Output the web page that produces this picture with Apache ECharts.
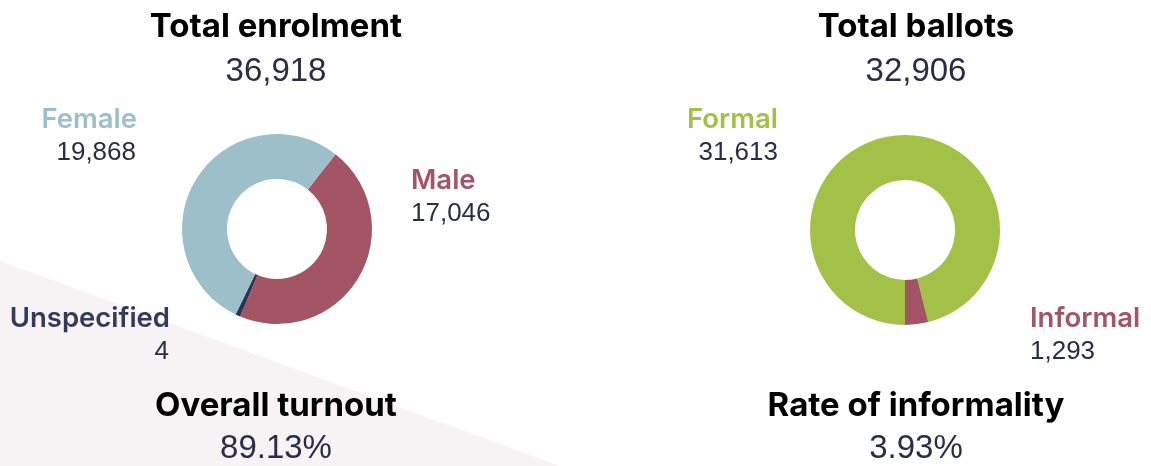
<!DOCTYPE html>
<html>
<head>
<meta charset="utf-8">
<title>Enrolment and ballots</title>
<script src="https://cdn.jsdelivr.net/npm/echarts@6/dist/echarts.min.js"></script>
<style>
    html, body { margin: 0; padding: 0; background: #fff; }
    #chart { width: 1151px; height: 466px; }
</style>
</head>
<body>
<div id="chart"></div>
<script>
// enrolment by gender
const genderNames = ['Female', 'Male', 'Unspecified'];
const genderValues = [19868, 17046, 4];
const genderColors = ['#9dbfc9', '#a35565', '#2b3452'];
const genderLabelColors = ['#9dbfc9', '#a35565', '#343a5a'];

// ballots
const ballotNames = ['Formal', 'Informal'];
const ballotValues = [31613, 1293];
const ballotColors = ['#a3c147', '#a35565'];

// headline figures
const headings = ['Total enrolment', 'Total ballots', 'Overall turnout', 'Rate of informality'];
const headlineValues = ['36,918', '32,906', '89.13%', '3.93%'];

const numColor = '#2b2d48';
const headFont = 'bold 33px Inter, "Noto Sans", sans-serif';
const bigNumFont = '33px "Liberation Sans", Arial, sans-serif';
const labelFont = '600 27.5px Inter, "Noto Sans", sans-serif';
const numFont = '26px "Liberation Sans", Arial, sans-serif';

const fmt = v => v.toLocaleString('en-US');

function txt(x, y, text, font, fill, align) {
    return {
        type: 'text',
        x: x,
        y: y,
        z: 10,
        style: {
            text: text,
            font: font,
            fill: fill,
            textAlign: align || 'center',
            textVerticalAlign: 'middle',
        },
    };
}

const myChart = echarts.init(document.getElementById('chart'));

// headings and big numbers, two columns
const colX = [276, 916];
const rowY = [[27, 72], [406, 449]];
const headText = [];
headings.forEach((h, i) => {
    const cx = colX[i % 2];
    const ry = rowY[Math.floor(i / 2)];
    headText.push(txt(cx, ry[0], h, headFont, '#000'));
    headText.push(txt(cx, ry[1], headlineValues[i], bigNumFont, numColor));
});

// slice labels (name + value), placed round the rings
const labelPos = {
    Female: [137, 120, 'right'],
    Male: [411, 181, 'left'],
    Unspecified: [170, 319, 'right'],
    Formal: [778, 120, 'right'],
    Informal: [1030, 319, 'left'],
};
const sliceText = [];
genderNames.forEach((n, i) => {
    const p = labelPos[n];
    sliceText.push(txt(p[0], p[1], n, labelFont, genderLabelColors[i], p[2]));
    sliceText.push(txt(p[0] - (p[2] === 'right' ? 1 : 0), p[1] + 33, fmt(genderValues[i]), numFont, numColor, p[2]));
});
ballotNames.forEach((n, i) => {
    const p = labelPos[n];
    sliceText.push(txt(p[0], p[1], n, labelFont, ballotColors[i], p[2]));
    sliceText.push(txt(p[0], p[1] + 33, fmt(ballotValues[i]), numFont, numColor, p[2]));
});

// ring order clockwise: Male, Unspecified, Female
const genderOrder = [1, 2, 0];

myChart.setOption({
    animation: false,
    graphic: [
        {
            type: 'polygon',
            z: 0,
            shape: { points: [[0, 261], [560, 466], [0, 466]] },
            style: { fill: '#f7f2f4' },
        },
        ...headText,
        ...sliceText,
    ],
    series: [
        {
            type: 'pie',
            center: [277, 229],
            radius: [50, 95],
            startAngle: 52,
            minAngle: 3,
            clockwise: true,
            label: { show: false },
            labelLine: { show: false },
            emphasis: { disabled: true },
            data: genderOrder.map(i => ({
                name: genderNames[i],
                value: genderValues[i],
                itemStyle: { color: genderColors[i] },
            })),
        },
        {
            type: 'pie',
            center: [905, 230],
            radius: [50, 95],
            startAngle: -90,
            clockwise: true,
            label: { show: false },
            labelLine: { show: false },
            emphasis: { disabled: true },
            data: ballotNames.map((n, i) => ({
                name: n,
                value: ballotValues[i],
                itemStyle: { color: ballotColors[i] },
            })),
        },
    ],
});
</script>
</body>
</html>
